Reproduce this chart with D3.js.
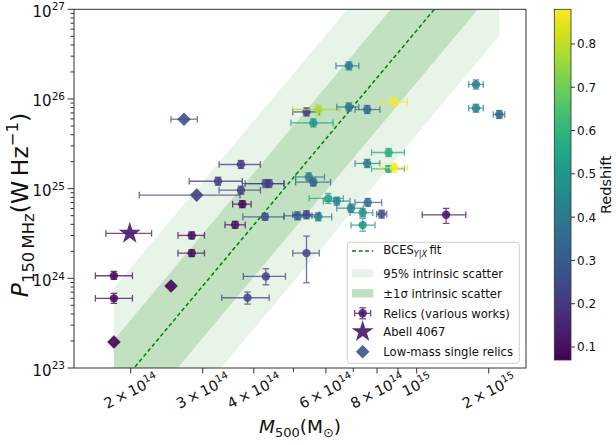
<!DOCTYPE html>
<html>
<head>
<meta charset="utf-8">
<script src="https://cdn.jsdelivr.net/npm/d3@7"></script>
<style>
  body { margin: 0; background: #fff; }
  text { font-family: "DejaVu Sans", sans-serif; fill: #111; }
</style>
</head>
<body>
<div id="chart"></div>
<script>
// masses in units of 1e14 Msun, radio powers in units of 1e24 W/Hz

// relics from various works (circles with error bars)
var relicMass    = [11.80, 1.82, 1.82, 2.82, 2.82, 3.60, 3.75, 3.27, 3.72, 3.72, 4.27, 4.36, 5.45, 5.59, 4.26, 5.11, 5.38, 5.75, 6.08, 6.38, 6.91, 7.59, 7.38, 8.21, 7.38, 4.28, 3.86, 5.38, 5.38, 5.75, 5.59, 6.83, 6.83, 7.57, 8.80, 13.96, 13.96, 15.92, 8.54, 7.57, 8.54, 8.80];
var relicMassLo  = [10.32, 1.64, 1.64, 2.61, 2.61, 3.40, 3.55, 2.78, 3.29, 3.29, 3.75, 3.81, 5.06, 5.06, 3.76, 4.74, 4.98, 5.19, 5.46, 5.91, 6.38, 7.07, 6.87, 7.98, 6.91, 3.77, 3.34, 4.98, 4.98, 4.98, 4.93, 6.35, 6.38, 7.07, 8.13, 13.40, 13.40, 15.39, 7.76, 7.07, 7.76, 8.13];
var relicMassHi  = [13.18, 2.02, 2.02, 3.03, 3.03, 3.81, 3.94, 3.75, 4.15, 4.15, 4.74, 4.74, 5.95, 6.16, 4.74, 5.55, 5.78, 6.20, 6.62, 6.87, 7.40, 8.21, 7.81, 8.45, 7.91, 4.78, 4.36, 5.78, 5.78, 6.49, 6.25, 7.22, 7.22, 8.13, 9.49, 14.55, 14.55, 16.41, 9.33, 8.13, 9.33, 9.49];
var relicPower   = [5.11, 1.068, 0.598, 3.01, 1.91, 3.95, 6.72, 12.1, 18.6, 9.62, 11.4, 11.4, 13.5, 11.8, 4.85, 4.98, 5.11, 4.85, 7.78, 7.26, 6.06, 7.02, 5.38, 5.20, 3.92, 1.05, 0.607, 1.91, 71.7, 76.3, 54.1, 234, 81.5, 76.3, 92.7, 145, 78.9, 67.1, 25.3, 19.1, 16.6, 17.1];
var relicPowerLo = [4.10, 0.973, 0.526, 2.75, 1.75, 3.61, 6.14, 10.9, 16.8, 8.68, 10.3, 10.3, 12.2, 10.7, 4.44, 4.49, 4.61, 4.38, 6.84, 6.55, 5.47, 6.34, 4.85, 4.69, 3.36, 0.847, 0.516, 0.892, 64.7, 65.9, 48.8, 211, 73.6, 68.9, 83.7, 129, 71.2, 60.6, 22.8, 17.2, 15.4, 15.3];
var relicPowerHi = [6.02, 1.195, 0.680, 3.29, 2.09, 4.32, 7.35, 13.4, 20.6, 10.66, 12.6, 12.6, 15.0, 13.1, 5.31, 5.51, 5.66, 5.38, 8.84, 8.04, 6.72, 7.78, 5.96, 5.76, 4.66, 1.28, 0.703, 2.96, 79.5, 85.2, 60.0, 259, 90.4, 84.6, 102.7, 163, 87.4, 74.3, 28.1, 21.2, 18.0, 19.2];
var relicZ       = [0.10, 0.08, 0.08, 0.09, 0.09, 0.10, 0.08, 0.20, 0.20, 0.22, 0.26, 0.20, 0.42, 0.32, 0.26, 0.30, 0.22, 0.40, 0.56, 0.42, 0.40, 0.35, 0.47, 0.27, 0.48, 0.22, 0.25, 0.24, 0.20, 0.78, 0.50, 0.40, 0.38, 0.35, 0.88, 0.40, 0.42, 0.32, 0.57, 0.40, 0.57, 0.88];

// Abell 4067
var a4067Mass   = [1.99];
var a4067MassLo = [1.74];
var a4067MassHi = [2.25];
var a4067Power  = [3.17];
var a4067Z      = [0.12];

// low-mass single relics
var singleMass   = [2.70, 2.90, 2.51, 1.82];
var singleMassLo = [2.51, 2.10, 2.51, 1.82];
var singleMassHi = [2.91, 3.70, 2.51, 1.82];
var singlePower  = [59.5, 8.47, 0.82, 0.195];
var singleZ      = [0.27, 0.22, 0.08, 0.07];

// BCES fit: P = norm * (M / pivot)^slope, scatter in dex
var fitPivot = 5, fitNorm = 13.3, fitSlope = 5.45;
var scatter1 = 0.58, scatter95 = 1.16;

var xTicks = [2, 3, 4, 6, 8, 10, 15];
var xMinorTicks = [5, 7, 9];
var yTicks = [0.1, 1, 10, 100, 1000];
var cbarTicks = [0.1, 0.2, 0.3, 0.4, 0.5, 0.6, 0.7, 0.8];

var W = 616, H = 445;
var pL = 74, pR = 526, pT = 9.3, pB = 368;

var svg = d3.select("#chart").append("svg")
  .attr("width", W).attr("height", H);
svg.append("rect").attr("width", W).attr("height", H).attr("fill", "#fff");

var x = d3.scaleLog().domain([1.454, 18.5]).range([pL, pR]);
var y = d3.scaleLog().domain([0.1, 1000]).range([pB, pT]);
var zExt = d3.extent(relicZ.concat(a4067Z, singleZ));
var color = d3.scaleSequential(d3.interpolateViridis).domain(zExt);

svg.append("clipPath").attr("id", "clip")
  .append("rect").attr("x", pL).attr("y", pT)
  .attr("width", pR - pL).attr("height", pB - pT);

// text helper: parts are [string, flags]
function rich(g, parts, size) {
  var t = g.append("text").style("font-size", size + "px");
  var shift = 0;
  parts.forEach(function (p) {
    var f = p[1] || "";
    var s = t.append("tspan").text(p[0]);
    var target = f.indexOf("sup") >= 0 ? -0.42 * size : (f.indexOf("sub") >= 0 ? 0.24 * size : 0);
    s.attr("dy", target - shift);
    shift = target;
    if (f.indexOf("sup") >= 0 || f.indexOf("sub") >= 0) s.style("font-size", (0.7 * size) + "px");
    if (f.indexOf("it") >= 0) s.style("font-style", "italic");
  });
  return t;
}

function sciParts(v) {
  var e = Math.floor(Math.log10(v) + 1e-9);
  var c = Math.round(v / Math.pow(10, e));
  var base = c === 1 ? "10" : c + "\u2009\u00d7\u200910";
  return [[base], [String(e), "sup"]];
}

// scatter bands and fit line
var mRange = d3.extent(relicMass.concat(a4067Mass, singleMass));
function fitP(m) { return fitNorm * Math.pow(m / fitPivot, fitSlope); }
function bandPath(k) {
  var f = Math.pow(10, k);
  return d3.area()
    .x(function (d) { return x(d); })
    .y0(function (d) { return y(fitP(d) / f); })
    .y1(function (d) { return y(fitP(d) * f); })(mRange);
}
var plotG = svg.append("g").attr("clip-path", "url(#clip)");
plotG.append("path").attr("d", bandPath(scatter95)).attr("fill", "green").attr("fill-opacity", 0.09);
plotG.append("path").attr("d", bandPath(scatter1)).attr("fill", "green").attr("fill-opacity", 0.17);
plotG.append("path")
  .attr("d", d3.line().x(function (d) { return x(d); }).y(function (d) { return y(fitP(d)); })(mRange))
  .attr("stroke", "green").attr("stroke-width", 1.5).attr("stroke-dasharray", "4,2.6").attr("fill", "none");

// error bars
function errBar(g, px, py, xlo, xhi, ylo, yhi, col) {
  var cap = 3.3;
  var eg = g.append("g").attr("stroke", col).attr("stroke-width", 1.3).attr("opacity", 0.75);
  if (xhi - xlo > 0.5) {
    eg.append("line").attr("x1", xlo).attr("x2", xhi).attr("y1", py).attr("y2", py);
    eg.append("line").attr("x1", xlo).attr("x2", xlo).attr("y1", py - cap).attr("y2", py + cap);
    eg.append("line").attr("x1", xhi).attr("x2", xhi).attr("y1", py - cap).attr("y2", py + cap);
  }
  if (ylo - yhi > 0.5) {
    eg.append("line").attr("x1", px).attr("x2", px).attr("y1", ylo).attr("y2", yhi);
    eg.append("line").attr("x1", px - cap).attr("x2", px + cap).attr("y1", ylo).attr("y2", ylo);
    eg.append("line").attr("x1", px - cap).attr("x2", px + cap).attr("y1", yhi).attr("y2", yhi);
  }
}

relicMass.forEach(function (m, i) {
  var c = color(relicZ[i]);
  errBar(plotG, x(m), y(relicPower[i]), x(relicMassLo[i]), x(relicMassHi[i]),
    y(relicPowerLo[i]), y(relicPowerHi[i]), c);
  plotG.append("circle").attr("cx", x(m)).attr("cy", y(relicPower[i]))
    .attr("r", 4.2).attr("fill", c).attr("opacity", 0.85);
});

var star = d3.symbol().type(d3.symbolStar).size(150);
a4067Mass.forEach(function (m, i) {
  var c = color(a4067Z[i]);
  errBar(plotG, x(m), y(a4067Power[i]), x(a4067MassLo[i]), x(a4067MassHi[i]), 0, 0, c);
  plotG.append("path").attr("d", star())
    .attr("transform", "translate(" + x(m) + "," + y(a4067Power[i]) + ")")
    .attr("fill", c).attr("opacity", 0.9);
});

var diamond = d3.symbol().type(d3.symbolSquare).size(92);
singleMass.forEach(function (m, i) {
  var c = color(singleZ[i]);
  errBar(plotG, x(m), y(singlePower[i]), x(singleMassLo[i]), x(singleMassHi[i]), 0, 0, c);
  plotG.append("path").attr("d", diamond())
    .attr("transform", "translate(" + x(m) + "," + y(singlePower[i]) + ") rotate(45)")
    .attr("fill", c).attr("opacity", 0.9);
});

// axes
var axisCol = "#333";
svg.append("rect").attr("x", pL).attr("y", pT)
  .attr("width", pR - pL).attr("height", pB - pT)
  .attr("fill", "none").attr("stroke", axisCol).attr("stroke-width", 1);

var ax = svg.append("g").attr("stroke", axisCol).attr("stroke-width", 1);
xTicks.forEach(function (v) {
  ax.append("line").attr("x1", x(v)).attr("x2", x(v)).attr("y1", pB).attr("y2", pB + 5.5);
});
xMinorTicks.forEach(function (v) {
  ax.append("line").attr("x1", x(v)).attr("x2", x(v)).attr("y1", pB).attr("y2", pB + 4);
});
yTicks.forEach(function (v) {
  ax.append("line").attr("x1", pL).attr("x2", pL - 6.5).attr("y1", y(v)).attr("y2", y(v));
});
y.ticks().filter(function (v) { return yTicks.indexOf(v) < 0; }).forEach(function (v) {
  ax.append("line").attr("x1", pL).attr("x2", pL - 3.5).attr("y1", y(v)).attr("y2", y(v));
});

// y tick labels
yTicks.forEach(function (v) {
  rich(svg, sciParts(v * 1e24), 15)
    .attr("x", 65).attr("y", y(v) + 7.5).attr("text-anchor", "end");
});

// x tick labels, rotated
var deg = 27, rot = deg * Math.PI / 180;
xTicks.forEach(function (v) {
  var g = svg.append("g");
  var t = rich(g, sciParts(v * 1e14), 14.5);
  var b = t.node().getBBox();
  t.attr("transform", "translate(" + (-(b.x + b.width / 2)) + "," + (-(b.y + b.height / 2)) + ")");
  var hh = (b.width * Math.sin(rot) + b.height * Math.cos(rot)) / 2;
  g.attr("transform", "translate(" + x(v) + "," + (369 + hh) + ") rotate(" + (-deg) + ")");
});

// axis titles
rich(svg, [["M", "it"], ["500", "sub"], ["(M"], ["\u2299", "sub"], [")"]], 18.5)
  .attr("x", 300).attr("y", 433).attr("text-anchor", "middle");
rich(svg, [["P", "it"], ["150\u2009MHz", "sub"], ["(W\u2009Hz"], ["\u22121", "sup"], [")"]], 23.5)
  .attr("text-anchor", "middle")
  .attr("transform", "translate(28,205) rotate(-90)");

// legend
var lg = svg.append("g");
lg.append("rect").attr("x", 347.3).attr("y", 242.3).attr("width", 172).attr("height", 121)
  .attr("rx", 3).attr("fill", "#fff").attr("fill-opacity", 0.85).attr("stroke", "#d0d0d0");
var rows = [251, 273.3, 293.3, 313.3, 331.7, 351.7];
var hx0 = 352, hx1 = 373.3, tx = 383.3, fs = 11.6;
lg.append("line").attr("x1", hx0).attr("x2", hx1).attr("y1", rows[0]).attr("y2", rows[0])
  .attr("stroke", "green").attr("stroke-width", 1.5).attr("stroke-dasharray", "4,2.6");
lg.append("rect").attr("x", hx0).attr("y", rows[1] - 4.2).attr("width", hx1 - hx0).attr("height", 8.4)
  .attr("fill", "green").attr("fill-opacity", 0.09);
lg.append("rect").attr("x", hx0).attr("y", rows[2] - 4.2).attr("width", hx1 - hx0).attr("height", 8.4)
  .attr("fill", "green").attr("fill-opacity", 0.24);
var hc = (hx0 + hx1) / 2;
errBar(lg, hc, rows[3], hc - 8, hc + 8, rows[3] + 5.5, rows[3] - 5.5, color(relicZ[0]));
lg.append("circle").attr("cx", hc).attr("cy", rows[3]).attr("r", 4.2)
  .attr("fill", color(relicZ[0])).attr("opacity", 0.85);
lg.append("path").attr("d", star()).attr("transform", "translate(" + hc + "," + rows[4] + ")")
  .attr("fill", color(a4067Z[0])).attr("opacity", 0.9);
lg.append("path").attr("d", diamond()).attr("transform", "translate(" + hc + "," + rows[5] + ") rotate(45)")
  .attr("fill", color(singleZ[0])).attr("opacity", 0.9);

rich(lg, [["BCES"], ["Y|X", "sub it"], ["\u2009fit"]], fs).attr("x", tx).attr("y", rows[0] + 3);
var labels = ["95% intrinsic scatter", "\u00b11\u03c3 intrinsic scatter", "Relics (various works)", "Abell 4067", "Low-mass single relics"];
labels.forEach(function (s, i) {
  lg.append("text").attr("x", tx).attr("y", rows[i + 1] + 4.2).style("font-size", fs + "px").text(s);
});

// colorbar
var cb = { x: 554.3, w: 16.7, top: 9.3, bottom: 360 };
var grad = svg.append("defs").append("linearGradient").attr("id", "vir")
  .attr("x1", 0).attr("x2", 0).attr("y1", 1).attr("y2", 0);
d3.range(0, 1.0001, 0.05).forEach(function (t) {
  grad.append("stop").attr("offset", t).attr("stop-color", d3.interpolateViridis(t));
});
svg.append("rect").attr("x", cb.x).attr("y", cb.top).attr("width", cb.w).attr("height", cb.bottom - cb.top)
  .attr("fill", "url(#vir)").attr("stroke", axisCol).attr("stroke-width", 0.8);
var cy = d3.scaleLinear().domain(zExt).range([cb.bottom, cb.top]);
cbarTicks.forEach(function (v) {
  svg.append("line").attr("x1", cb.x + cb.w).attr("x2", cb.x + cb.w + 4)
    .attr("y1", cy(v)).attr("y2", cy(v)).attr("stroke", axisCol);
  svg.append("text").attr("x", cb.x + cb.w + 6).attr("y", cy(v) + 4.4)
    .style("font-size", "12px").text(v.toFixed(1));
});
svg.append("text").attr("text-anchor", "middle").style("font-size", "14.5px")
  .attr("transform", "translate(611," + ((cb.top + cb.bottom) / 2) + ") rotate(-90)")
  .text("Redshift");
</script>
</body>
</html>
